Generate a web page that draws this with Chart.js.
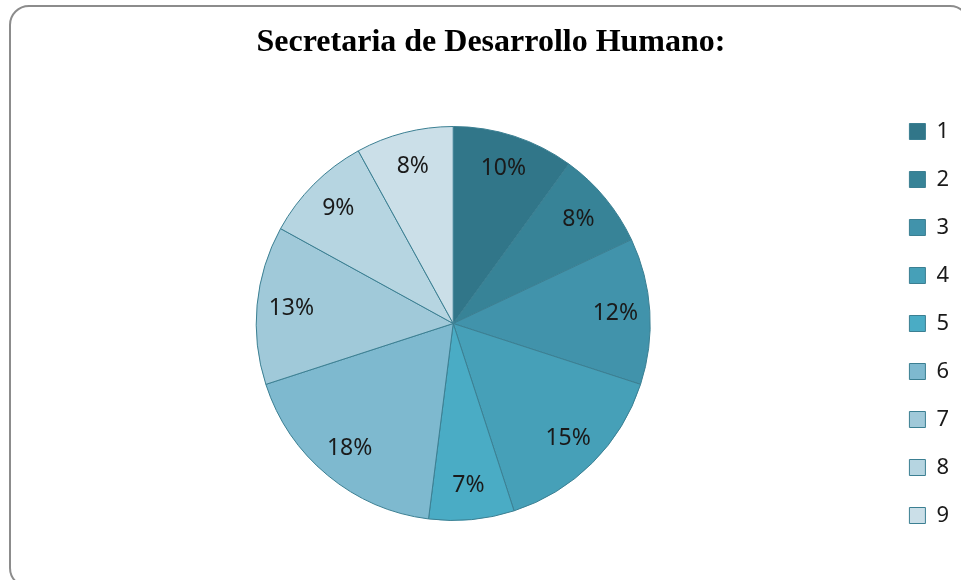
<!DOCTYPE html>
<html>
  <script src="https://cdn.jsdelivr.net/npm/chart.js@4.4.0/dist/chart.umd.min.js"></script>
  <body style="margin:0; overflow:hidden; background:#fff">
    <div style="position:absolute; left:9px; top:5px; width:957px; height:579px; border:2px solid #8c8c8c; border-radius:20px"></div>
    <div style="position:absolute; left:0; top:0; width:961px; height:580px">
      <canvas id="pieChart"></canvas>
    </div>

    <script>
      // datos
      var categorias = ["1", "2", "3", "4", "5", "6", "7", "8", "9"];
      var valores = [10, 8, 12, 15, 7, 18, 13, 9, 8];
      var colores = ["#317689", "#378397", "#4193ab", "#46a0b8", "#4aacc5",
                     "#7eb9cf", "#a0c9d9", "#b6d5e1", "#cbdfe8"];

      // porcentaje dentro de cada trozo
      var pctLabels = {
        id: "pctLabels",
        afterDatasetsDraw: function (chart) {
          var ctx = chart.ctx;
          var meta = chart.getDatasetMeta(0);
          var total = valores.reduce(function (a, b) { return a + b; }, 0);
          ctx.save();
          ctx.font = '23px "Noto Sans"';
          ctx.fillStyle = "#1a1a1a";
          ctx.textAlign = "center";
          ctx.textBaseline = "middle";
          meta.data.forEach(function (arc, i) {
            var p = arc.getProps(["x", "y", "startAngle", "endAngle", "outerRadius"], true);
            var mid = (p.startAngle + p.endAngle) / 2;
            var r = p.outerRadius * 0.825;
            ctx.fillText(Math.round(valores[i] / total * 100) + "%",
              p.x + Math.cos(mid) * r, p.y + Math.sin(mid) * r);
          });
          ctx.restore();
        }
      };

      new Chart("pieChart", {
        type: "pie",
        data: {
          labels: categorias,
          datasets: [{
            data: valores,
            backgroundColor: colores,
            borderColor: "#3b7f92",
            borderWidth: 1,
            radius: 197
          }]
        },
        options: {
          responsive: true,
          maintainAspectRatio: false,
          animation: false,
          layout: { padding: { left: 23, right: 2, top: 0, bottom: 0 } },
          plugins: {
            title: {
              display: true,
              text: "Secretaria de Desarrollo Humano:",
              color: "#000",
              font: { family: "Liberation Serif", size: 32, weight: "bold" },
              padding: { top: 24, bottom: 4.6 }
            },
            legend: {
              position: "right",
              align: "center",
              fullSize: false,
              labels: {
                color: "#1a1a1a",
                font: { family: "Noto Sans", size: 22 },
                boxWidth: 16,
                boxHeight: 16,
                padding: 26
              }
            },
            tooltip: { enabled: false }
          }
        },
        plugins: [pctLabels]
      });
    </script>
  </body>
</html>
